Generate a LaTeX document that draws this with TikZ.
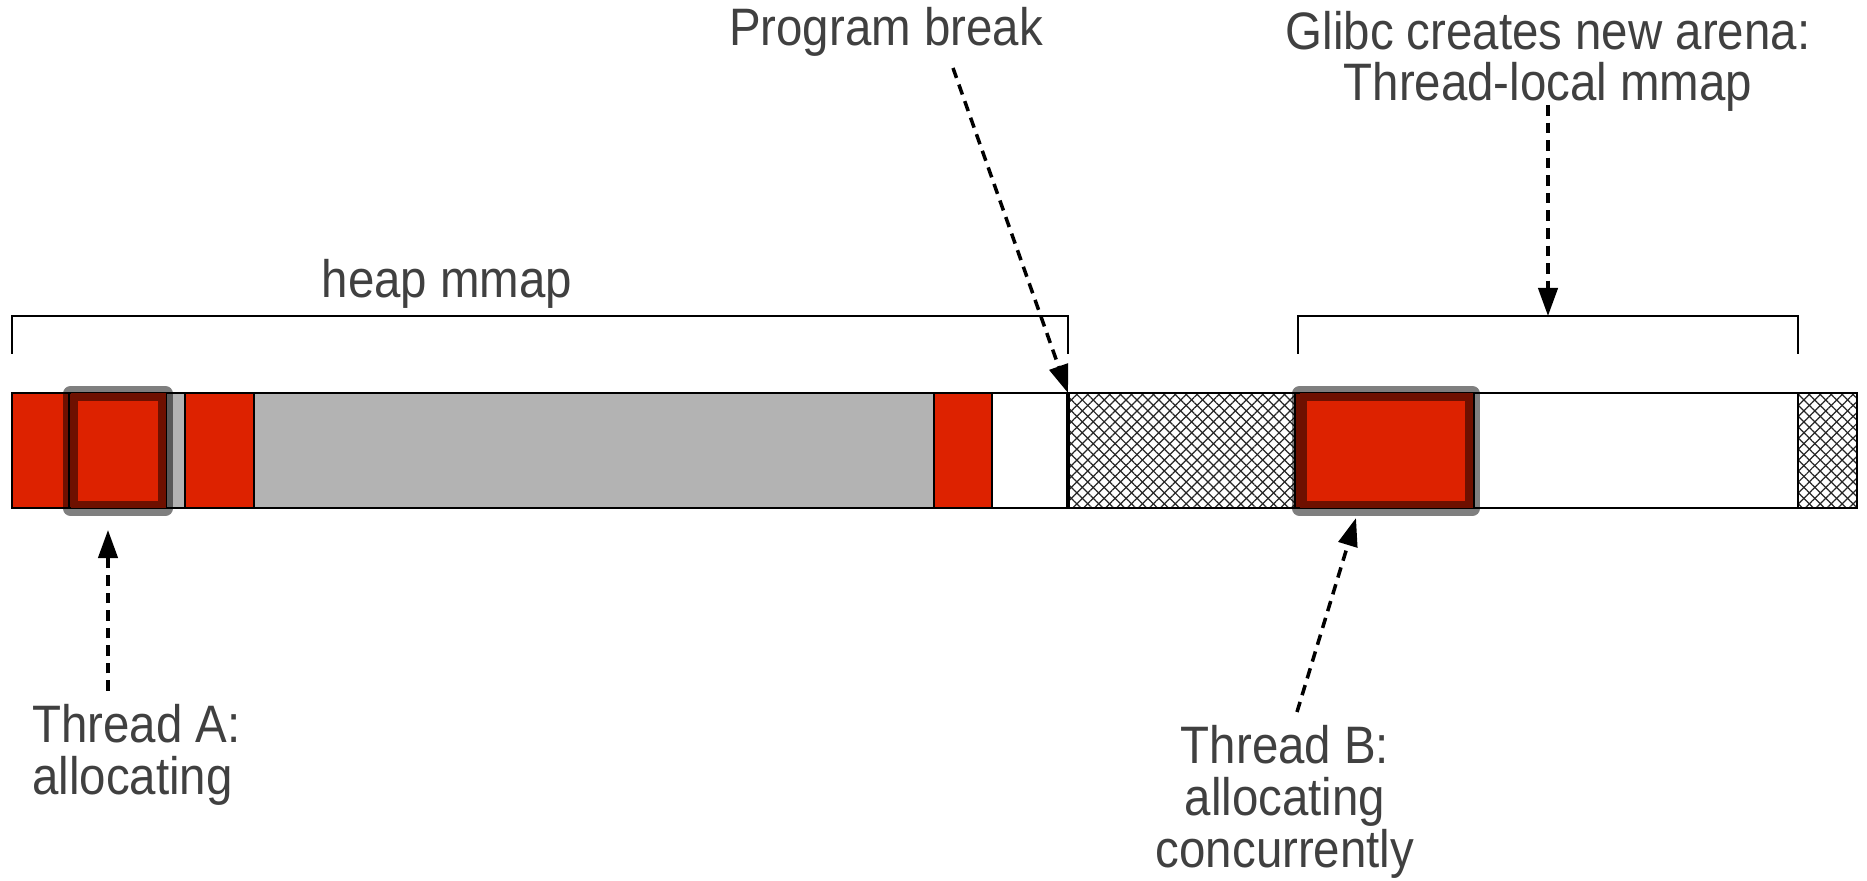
\documentclass[tikz,border=0pt]{standalone}
\usepackage{fontspec}
\setmainfont[FakeStretch=0.9]{Liberation Sans}
\usetikzlibrary{arrows.meta,patterns.meta}
\definecolor{blockred}{HTML}{DD2200}
\definecolor{freegray}{HTML}{B3B3B3}
\definecolor{labelgray}{HTML}{404040}
\begin{document}
\begin{tikzpicture}[x=0.02cm, y=-0.02cm,
    seg/.style={draw=black, line width=1.3pt},
    hatch/.style={pattern={Lines[angle=45,distance=4.4pt,line width=0.7pt]}, pattern color=black!85},
    hatchb/.style={pattern={Lines[angle=-45,distance=4.4pt,line width=0.7pt]}, pattern color=black!85},
    hilite/.style={fill=blockred, draw=black, draw opacity=0.5, line width=8.5pt, line join=round},
    brace/.style={draw=black, line width=1.1pt},
    lbl/.style={text=labelgray, font=\fontsize{30pt}{29.5pt}\selectfont, inner sep=0pt},
    ptr/.style={draw=black, line width=2pt, dash pattern=on 6pt off 4pt,
        -{Triangle[length=16pt, width=11pt]}}]
    \fill[white] (0,0) rectangle (1867,881);
    \useasboundingbox (0,0) rectangle (1867,881);

    % the heap bar
    \foreach \a/\b/\c in {12/69/blockred, 69/166/blockred, 166/185/freegray,
                          185/254/blockred, 254/934/freegray, 934/992/blockred,
                          992/1068/white, 1295/1474/blockred, 1474/1798/white}
        \draw[seg, fill=\c] (\a,393) rectangle (\b,508);
    \foreach \a/\b in {1068/1295, 1798/1857} {
        \fill[hatch] (\a,393) rectangle (\b,508);
        \fill[hatchb] (\a,393) rectangle (\b,508);
        \draw[seg] (\a,393) rectangle (\b,508);
    }
    \draw[black, line width=2.4pt] (1068,393) -- (1068,508);

    % highlighted blocks
    \draw[hilite] (70.5,393.5) rectangle (165.5,508.5);
    \draw[hilite] (1299.5,393.5) rectangle (1472.5,508.5);

    % brackets
    \draw[brace] (12,354) -- (12,316) -- (1068,316) -- (1068,354);
    \draw[brace] (1298,354) -- (1298,316) -- (1798,316) -- (1798,354);

    % labels
    \node[lbl, anchor=base] (heap) at (447,298) {heap mmap};
    \node[lbl, anchor=base] (brk) at (886,46) {Program break};
    \node[lbl, anchor=base, align=center] (arena) at (1548,101)
        {Glibc creates new arena:\\Thread-local mmap};
    \node[lbl, anchor=base west, align=left] (thra) at (32,794)
        {Thread A:\\allocating};
    \node[lbl, anchor=base, align=center] (thrb) at (1285,867)
        {Thread B:\\allocating\\concurrently};

    % pointers
    \coordinate (brkTail) at (953,68);
    \coordinate (brkTip) at (1068,393);
    \coordinate (arenaTail) at (1548,105);
    \coordinate (arenaTip) at (1548,316);
    \coordinate (thraTail) at (108,691);
    \coordinate (thraTip) at (108,530);
    \coordinate (thrbTail) at (1297,712);
    \coordinate (thrbTip) at (1356,518);
    \draw[ptr] (brkTail) -- (brkTip);
    \draw[ptr] (arenaTail) -- (arenaTip);
    \draw[ptr] (thraTail) -- (thraTip);
    \draw[ptr] (thrbTail) -- (thrbTip);
\end{tikzpicture}
\end{document}
